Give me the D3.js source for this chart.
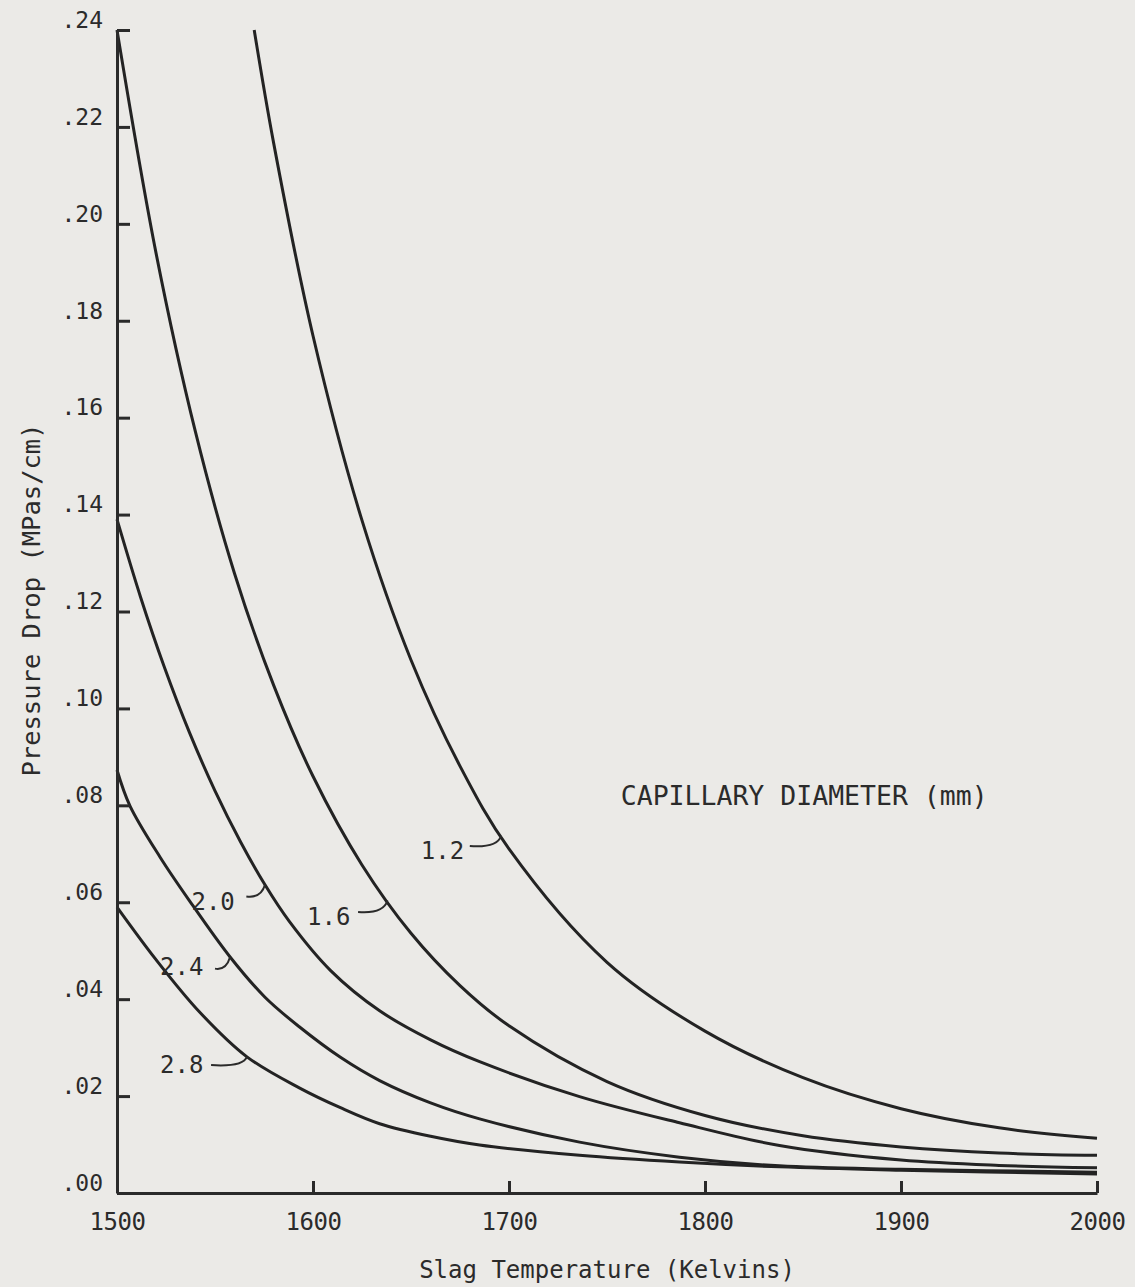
<!DOCTYPE html>
<html>
<head>
<meta charset="utf-8">
<script src="https://cdn.jsdelivr.net/npm/d3@7"></script>
<style>
  body { margin: 0; background: #ebeae7; }
  svg text { font-family: "DejaVu Sans Mono", "Liberation Mono", monospace; fill: #2b2b2b; }
  .axis path, .axis line { stroke: #2a2a2a; stroke-width: 3; }
  .curve { fill: none; stroke: #232323; stroke-width: 3; }
  .leader { fill: none; stroke: #2b2b2b; stroke-width: 2; }
</style>
</head>
<body>
<div id="chart"></div>
<script>
// slag temperature (K) and pressure drop (MPa/cm), one pair of arrays per capillary diameter
var temps12 = [1570, 1580, 1600, 1625, 1650, 1675, 1700, 1750, 1800, 1850, 1900, 1950, 2000];
var vals12  = [0.240, 0.2165, 0.1769, 0.1388, 0.1100, 0.0881, 0.0710, 0.0476, 0.0334, 0.0238, 0.0174, 0.01345, 0.0113];

var temps16 = [1500, 1520, 1540, 1560, 1580, 1600, 1625, 1650, 1675, 1700, 1750, 1800, 1850, 1900, 1950, 2000];
var vals16  = [0.240, 0.1938, 0.1571, 0.1278, 0.1047, 0.0860, 0.0677, 0.0536, 0.0428, 0.0345, 0.0230, 0.0160, 0.0118, 0.0095, 0.00825, 0.00777];

var temps20 = [1500, 1512, 1524, 1537, 1550, 1563, 1575.5, 1588, 1609, 1634, 1660, 1685, 1736, 1787, 1838, 1900, 1950, 2000];
var vals20  = [0.139, 0.123, 0.1087, 0.0950, 0.0830, 0.0725, 0.0636, 0.0560, 0.0459, 0.0376, 0.0316, 0.0271, 0.0199, 0.0145, 0.0098, 0.0068, 0.0057, 0.0052];

var temps24 = [1500, 1506.6, 1522, 1537, 1557.7, 1575.5, 1593, 1614, 1634, 1660, 1685, 1736, 1787, 1838, 1900, 2000];
var vals24  = [0.0873, 0.0799, 0.0693, 0.0603, 0.0487, 0.0404, 0.0343, 0.0280, 0.0232, 0.0186, 0.0153, 0.0105, 0.0074, 0.0056, 0.0049, 0.0043];

var temps28 = [1500, 1520, 1542, 1566.3, 1593, 1614, 1634, 1660, 1685, 1736, 1787, 1838, 1900, 2000];
var vals28  = [0.0590, 0.0481, 0.0374, 0.0281, 0.0217, 0.0176, 0.0143, 0.0117, 0.0099, 0.0078, 0.0064, 0.0054, 0.0047, 0.0039];

var diameters = ["1.2", "1.6", "2.0", "2.4", "2.8"];

// label text position and leader (start point, temperature where it meets the curve), data units
var labelT    = [1655, 1597, 1538, 1522, 1522];
var labelV    = [0.0689, 0.0553, 0.0584, 0.0450, 0.0248];
var leadFromT = [1680, 1623, 1566, 1550, 1548];
var leadFromV = [0.0716, 0.0580, 0.0612, 0.0463, 0.0264];
var leadToT   = [1696, 1638, 1575.5, 1557.7, 1566.3];

var xTicks = [1500, 1600, 1700, 1800, 1900, 2000];
var yTicks = [0, 0.02, 0.04, 0.06, 0.08, 0.10, 0.12, 0.14, 0.16, 0.18, 0.20, 0.22, 0.24];

function init(){
    var w = 1135;
    var h = 1287;

    var svg = d3.select("#chart")
      .append("svg")
      .attr("width", w)
      .attr("height", h);

    var xScale = d3.scaleLinear().domain([1500, 2000]).range([117, 1097]);
    var yScale = d3.scaleLinear().domain([0, 0.24]).range([1193, 30]);

    var series = [
      {name: "1.2", t: temps12, v: vals12},
      {name: "1.6", t: temps16, v: vals16},
      {name: "2.0", t: temps20, v: vals20},
      {name: "2.4", t: temps24, v: vals24},
      {name: "2.8", t: temps28, v: vals28}
    ];

    // linear lookup along a series, used to pin the leaders onto the curves
    function valueAt(s, t){
      var i = d3.bisectLeft(s.t, t);
      if (i <= 0) return s.v[0];
      if (i >= s.t.length) return s.v[s.t.length - 1];
      var f = (t - s.t[i - 1]) / (s.t[i] - s.t[i - 1]);
      return s.v[i - 1] + f * (s.v[i] - s.v[i - 1]);
    }

    var line = d3.line()
      .x(function(d){ return xScale(d[0]); })
      .y(function(d){ return yScale(d[1]); })
      .curve(d3.curveCatmullRom.alpha(0.5));

    svg.selectAll(".curve")
      .data(series)
      .enter()
      .append("path")
      .attr("class", "curve")
      .attr("d", function(s){ return line(d3.zip(s.t, s.v)); });

    // axes: ticks point inward like the typed original
    var xAxis = d3.axisBottom(xScale)
      .tickValues(xTicks)
      .tickSizeInner(-12)
      .tickSizeOuter(0)
      .tickPadding(20)
      .tickFormat(d3.format("d"));

    var yAxis = d3.axisLeft(yScale)
      .tickValues(yTicks)
      .tickSizeInner(-13)
      .tickSizeOuter(0)
      .tickPadding(14)
      .tickFormat(function(d){ return d3.format(".2f")(d).replace(/^0/, ""); });

    var gx = svg.append("g")
      .attr("class", "axis")
      .attr("transform", "translate(0," + yScale(0) + ")")
      .call(xAxis);
    gx.selectAll("text").style("font-size", "24px").style("letter-spacing", "-0.5px");

    var gy = svg.append("g")
      .attr("class", "axis")
      .attr("transform", "translate(" + xScale(1500) + ",0)")
      .call(yAxis);
    gy.selectAll("text").style("font-size", "23px").attr("dy", "-0.12em");

    // curve labels with their little hooked leaders
    diameters.forEach(function(name, i){
      var x0 = xScale(leadFromT[i]), y0 = yScale(leadFromV[i]);
      var x1 = xScale(leadToT[i]), y1 = yScale(valueAt(series[i], leadToT[i]));
      svg.append("path")
        .attr("class", "leader")
        .attr("d", "M" + x0 + "," + y0 + " Q" + (x1 - 4) + "," + (y0 + 2) + " " + x1 + "," + y1);
      svg.append("text")
        .attr("x", xScale(labelT[i]))
        .attr("y", yScale(labelV[i]))
        .style("font-size", "24px")
        .text(name);
    });

    svg.append("text")
      .attr("x", xScale(1757))
      .attr("y", yScale(0.0801))
      .style("font-size", "26.5px")
      .text("CAPILLARY DIAMETER (mm)");

    svg.append("text")
      .attr("x", (xScale(1500) + xScale(2000)) / 2)
      .attr("y", 1278)
      .attr("text-anchor", "middle")
      .style("font-size", "24px")
      .text("Slag Temperature (Kelvins)");

    svg.append("text")
      .attr("transform", "translate(40," + 600 + ") rotate(-90)")
      .attr("text-anchor", "middle")
      .style("font-size", "25.5px")
      .text("Pressure Drop (MPas/cm)");
}

window.onload = init;
</script>
</body>
</html>
